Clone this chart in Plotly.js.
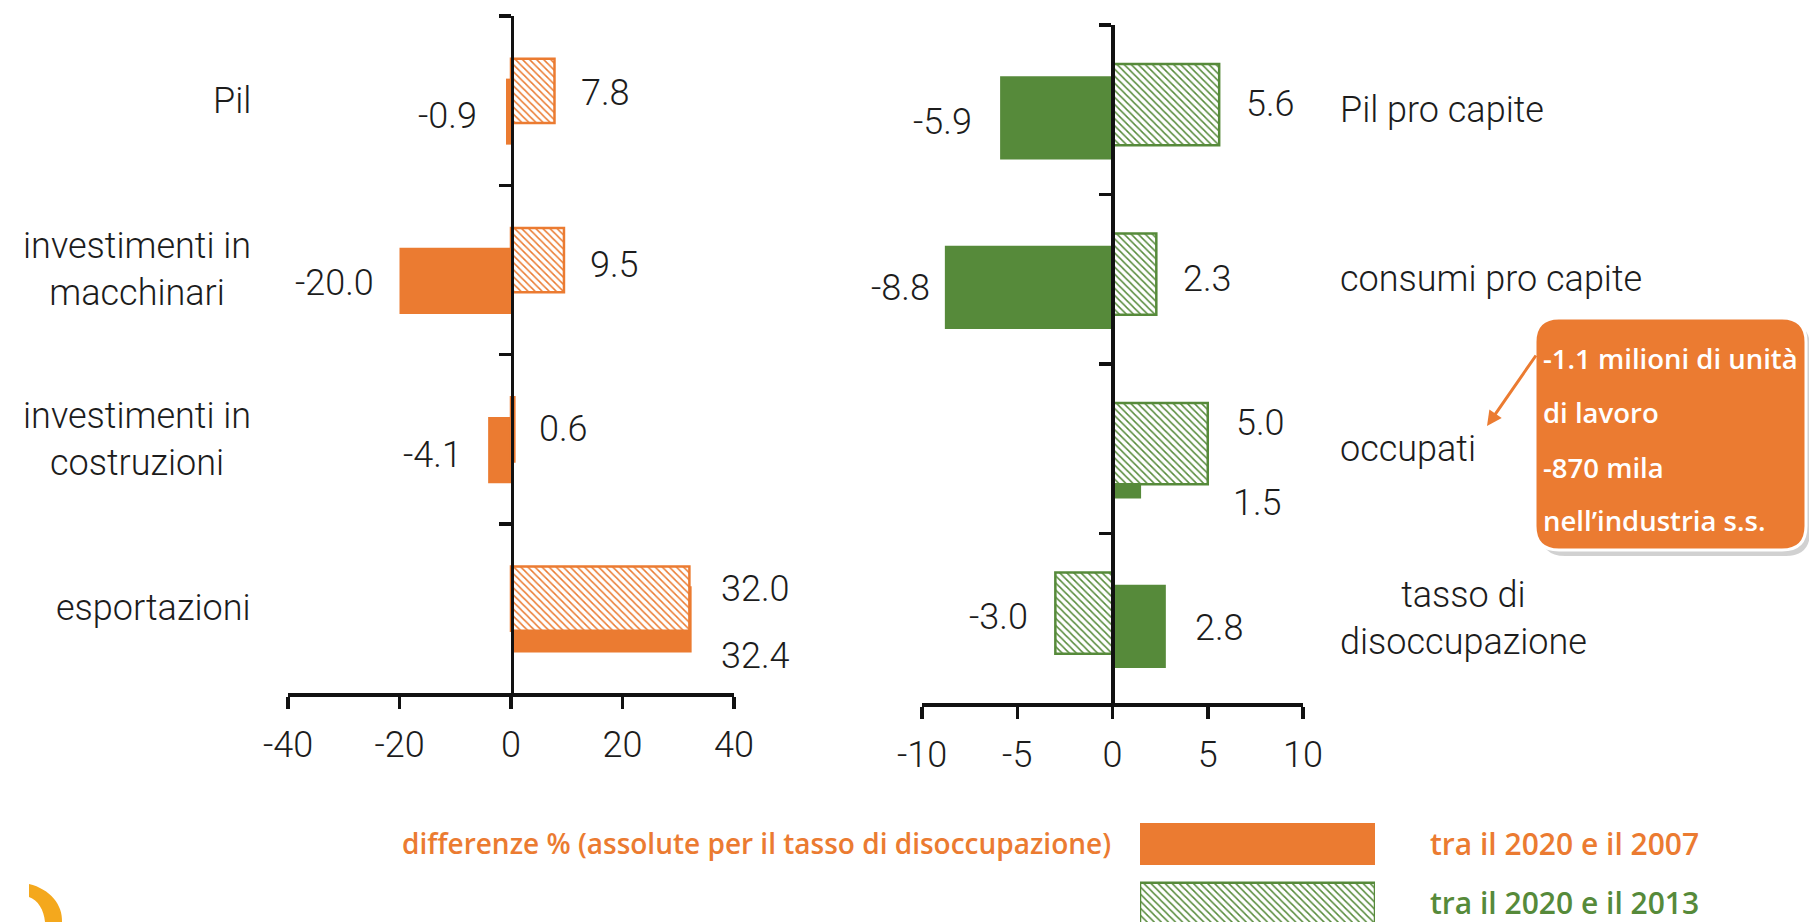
<!DOCTYPE html>
<html>
<head>
<meta charset="utf-8">
<script src="https://cdn.plot.ly/plotly-3.0.1.min.js"></script>
<style>
html,body{margin:0;padding:0;background:#ffffff;}
#chart{width:1809px;height:922px;}
</style>
</head>
<body>
<div id="chart"></div>
<script>
// ---------------- data ----------------
const leftCategories = ['Pil', 'investimenti in<br>macchinari', 'investimenti in<br>costruzioni', 'esportazioni'];
const left2007 = [-0.9, -20.0, -4.1, 32.4];
const left2013 = [7.8, 9.5, 0.6, 32.0];

const rightCategories = ['Pil pro capite', 'consumi pro capite', 'occupati', 'tasso di<br>disoccupazione'];
const right2007 = [-5.9, -8.8, 1.5, 2.8];
const right2013 = [5.6, 2.3, 5.0, -3.0];

const leftTicks = [-40, -20, 0, 20, 40];
const rightTicks = [-10, -5, 0, 5, 10];

const legendTitle = 'differenze % (assolute per il tasso di disoccupazione)';
const legendLabels = ['tra il 2020 e il 2007', 'tra il 2020 e il 2013'];
const noteLines = ['-1.1 milioni di unità', 'di lavoro', '-870 mila', 'nell’industria s.s.'];

// ---------------- style / placement ----------------
const W = 1809, H = 922;
const px = v => v / W;
const py = v => 1 - v / H;
const ORANGE = '#EB7B31';
const GREEN = '#568A3A';
const TXT = '#1c1c1c';
const FONT = 'Roboto, "Open Sans", sans-serif';
const BOLD = '"Open Sans", Roboto, sans-serif';

// label nudges (category units, + = downwards) and pixel gaps from bar end
const leftDy07 = [0.091, 0.08, 0.094, 0.28], leftGap07 = [27, 24, 24, 27];
const leftDy13 = [-0.045, -0.03, -0.06, -0.115], leftGap13 = [25, 24, 23, 30];
const rightDy07 = [0.072, 0.052, 0.32, 0.058], rightGap07 = [26, 13, 90, 27];
const rightDy13 = [-0.034, 0.0, -0.15, -0.007], rightGap13 = [25, 25, 26, 25];

function hatched(color) {
  return {
    color: color,
    line: {color: color, width: 2.5},
    pattern: {shape: '\\', bgcolor: '#ffffff', fgcolor: color, size: 5, solidity: 0.3}
  };
}

const traces = [];
// left chart
traces.push({type: 'bar', orientation: 'h', x: left2007, y: leftCategories, xaxis: 'x', yaxis: 'y',
  marker: {color: ORANGE, line: {width: 0}}, width: 0.39, offset: 0.065 - 0.195, hoverinfo: 'skip', showlegend: false});
traces.push({type: 'bar', orientation: 'h', x: left2013, y: leftCategories, xaxis: 'x', yaxis: 'y',
  marker: hatched(ORANGE), width: 0.38, offset: -0.058 - 0.19, hoverinfo: 'skip', showlegend: false});
// right chart
traces.push({type: 'bar', orientation: 'h', x: right2007, y: rightCategories, xaxis: 'x2', yaxis: 'y2',
  marker: {color: GREEN, line: {width: 0}}, width: 0.49, offset: 0.048 - 0.245, hoverinfo: 'skip', showlegend: false});
traces.push({type: 'bar', orientation: 'h', x: right2013, y: rightCategories, xaxis: 'x2', yaxis: 'y2',
  marker: hatched(GREEN), width: 0.48, offset: -0.03 - 0.24, hoverinfo: 'skip', showlegend: false});
// legend swatches
traces.push({type: 'bar', orientation: 'h', x: [1], y: [0], xaxis: 'x3', yaxis: 'y3',
  marker: {color: ORANGE}, width: 0.712, hoverinfo: 'skip', showlegend: false});
traces.push({type: 'bar', orientation: 'h', x: [1], y: [1], xaxis: 'x3', yaxis: 'y3',
  marker: hatched(GREEN), width: 0.69, hoverinfo: 'skip', showlegend: false});

function valueAxis(domain, range, ticks, anchor) {
  return {
    domain: domain, range: range, tickvals: ticks, ticktext: ticks.map(String),
    anchor: anchor, showline: true, linecolor: '#111', linewidth: 3.5,
    ticks: 'outside', ticklen: 12, tickwidth: 3.5, tickcolor: '#111',
    showgrid: false, zeroline: false, fixedrange: true,
    tickfont: {family: FONT, size: 36, color: TXT, weight: 300},
    ticklabelstandoff: 5
  };
}
function catAxis(domain, cats, pos) {
  return {
    domain: domain, type: 'category', categoryorder: 'array', categoryarray: cats,
    range: [cats.length - 0.5, -0.5], anchor: 'free', position: pos,
    showline: true, linecolor: '#111', linewidth: 3.5,
    ticks: 'outside', tickson: 'boundaries', ticklen: 12, tickwidth: 3.5, tickcolor: '#111',
    showticklabels: false, showgrid: false, zeroline: false, fixedrange: true
  };
}

const annotations = [];
function addLabels(vals, dys, gaps, xref, yref) {
  vals.forEach((v, i) => {
    const pos = v >= 0;
    annotations.push({
      xref: xref, yref: yref, x: v, y: i + dys[i], text: v.toFixed(1),
      xanchor: pos ? 'left' : 'right', yanchor: 'middle', xshift: pos ? gaps[i] : -gaps[i],
      showarrow: false, font: {family: FONT, size: 36, color: TXT, weight: 300}
    });
  });
}
addLabels(left2007, leftDy07, leftGap07, 'x', 'y');
addLabels(left2013, leftDy13, leftGap13, 'x', 'y');
addLabels(right2007, rightDy07, rightGap07, 'x2', 'y2');
addLabels(right2013, rightDy13, rightGap13, 'x2', 'y2');

// category labels
leftCategories.forEach((c, i) => annotations.push({
  xref: 'paper', yref: 'y', x: px(253), y: i, text: c, xanchor: 'right', yanchor: 'middle',
  align: 'center', showarrow: false, font: {family: FONT, size: 36, color: TXT, weight: 300}
}));
rightCategories.forEach((c, i) => annotations.push({
  xref: 'paper', yref: 'y2', x: px(1338), y: i, text: c, xanchor: 'left', yanchor: 'middle',
  align: 'center', showarrow: false, font: {family: FONT, size: 36, color: TXT, weight: 300}
}));

// note box text
const noteY = [358, 412, 467, 520];
noteLines.forEach((t, i) => annotations.push({
  xref: 'paper', yref: 'paper', x: px(1541), y: py(noteY[i]), text: t, xanchor: 'left', yanchor: 'middle',
  showarrow: false, font: {family: BOLD, size: 27.5, color: '#ffffff', weight: 600}
}));
// arrow
annotations.push({
  xref: 'paper', yref: 'paper', x: px(1487), y: py(426), ax: 50, ay: -72, text: '',
  showarrow: true, arrowhead: 2, arrowsize: 1, arrowwidth: 3, arrowcolor: ORANGE
});

// legend texts
annotations.push({xref: 'paper', yref: 'paper', x: px(1113), y: py(843), text: legendTitle,
  xanchor: 'right', yanchor: 'middle', showarrow: false, font: {family: BOLD, size: 28, color: ORANGE, weight: 600}});
annotations.push({xref: 'paper', yref: 'paper', x: px(1428), y: py(843), text: legendLabels[0],
  xanchor: 'left', yanchor: 'middle', showarrow: false, font: {family: BOLD, size: 30, color: ORANGE, weight: 600}});
annotations.push({xref: 'paper', yref: 'paper', x: px(1428), y: py(902), text: legendLabels[1],
  xanchor: 'left', yanchor: 'middle', showarrow: false, font: {family: BOLD, size: 30, color: GREEN, weight: 600}});

function roundRect(x0, y0, x1, y1, r) {
  const P = (x, y) => px(x) + ',' + py(y);
  return 'M' + P(x0 + r, y0) + ' L' + P(x1 - r, y0) + ' Q' + P(x1, y0) + ' ' + P(x1, y0 + r) +
    ' L' + P(x1, y1 - r) + ' Q' + P(x1, y1) + ' ' + P(x1 - r, y1) +
    ' L' + P(x0 + r, y1) + ' Q' + P(x0, y1) + ' ' + P(x0, y1 - r) +
    ' L' + P(x0, y0 + r) + ' Q' + P(x0, y0) + ' ' + P(x0 + r, y0) + ' Z';
}
function pathPx(cmds) {
  return cmds.map(c => c[0] + c.slice(1).reduce((s, v, k, a) => k % 2 === 0 ? s + (k ? ' ' : '') + px(v) + ',' + py(a[k + 1]) : s, '')).join(' ');
}

const shapes = [
  {type: 'path', xref: 'paper', yref: 'paper', path: roundRect(1541, 323, 1810, 556, 24),
    fillcolor: 'rgba(0,0,0,0.18)', line: {width: 0}, layer: 'below'},
  {type: 'path', xref: 'paper', yref: 'paper', path: roundRect(1535, 318, 1806, 550, 24),
    fillcolor: ORANGE, line: {color: '#ffffff', width: 3}, layer: 'below'},
  {type: 'path', xref: 'paper', yref: 'paper',
    path: pathPx([['M', 29, 884], ['C', 50, 889, 63, 905, 62, 922], ['L', 45, 922], ['C', 44, 910, 38, 900, 29, 897], ['Z']]),
    fillcolor: '#F4A81D', line: {width: 0}}
];

const layout = {
  width: W, height: H, margin: {l: 0, r: 0, t: 0, b: 0},
  paper_bgcolor: '#ffffff', plot_bgcolor: 'rgba(0,0,0,0)',
  font: {family: FONT, color: TXT},
  barmode: 'overlay', showlegend: false,
  xaxis: valueAxis([px(288), px(734)], [-40, 40], leftTicks, 'y'),
  yaxis: catAxis([py(693), py(16)], leftCategories, px(511.7)),
  xaxis2: valueAxis([px(922), px(1303)], [-10, 10], rightTicks, 'y2'),
  yaxis2: catAxis([py(703), py(25)], rightCategories, px(1112)),
  xaxis3: {domain: [px(1140), px(1375)], range: [0, 1], visible: false, anchor: 'y3', fixedrange: true},
  yaxis3: {domain: [0, py(823)], range: [1.322, -0.356], visible: false, anchor: 'x3', fixedrange: true},
  annotations: annotations,
  shapes: shapes
};

Plotly.newPlot('chart', traces, layout, {displayModeBar: false, staticPlot: true});
</script>
</body>
</html>
